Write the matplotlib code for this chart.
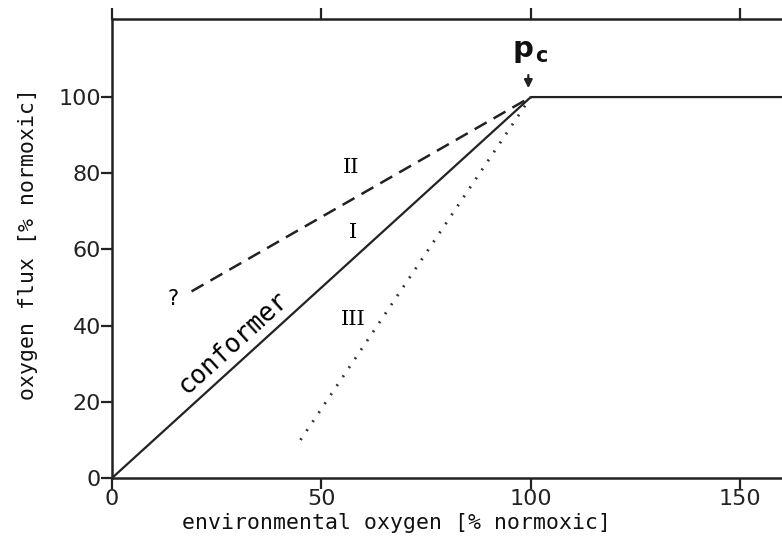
import numpy as np
import matplotlib.pyplot as plt

# line data (environmental O2 vs O2 flux, % normoxic)
conf_x = [0, 100, 160]
conf_y = [0, 100, 100]
ii_x = [19, 100]
ii_y = [49, 100]
iii_x = [45, 100]
iii_y = [10, 100]

xticks = [0, 50, 100, 150]
yticks = [0, 20, 40, 60, 80, 100]

fig = plt.figure(figsize=(7.82, 5.42), dpi=100)
ax = fig.add_axes([0.1432, 0.118, 0.857, 0.847])

ax.plot(conf_x, conf_y, color='#222222', lw=1.6, solid_capstyle='butt')
ax.plot(ii_x, ii_y, color='#222222', lw=1.8, ls=(0, (5.5, 3.2)))
ax.plot(iii_x, iii_y, color='#333333', lw=2.0, ls=(0, (0.7, 3.2)))

ax.set_xlim(0, 160)
ax.set_ylim(0, 120.5)
ax.set_xticks(xticks)
ax.set_yticks(yticks)

for s in ['left', 'bottom', 'top']:
    ax.spines[s].set_linewidth(1.8)
    ax.spines[s].set_color('#222222')
ax.spines['right'].set_visible(False)

ax.tick_params(axis='both', direction='out', length=8, width=1.6,
               labelsize=16, colors='#222222', pad=0)
ax.tick_params(top=True, labeltop=False)

mono = 'DejaVu Sans Mono'
ax.set_xlabel('environmental oxygen [% normoxic]', family=mono,
              fontsize=15.5, color='#111111', va='center')
ax.xaxis.set_label_coords(0.425, -0.097)
ax.set_ylabel('oxygen flux [% normoxic]', family=mono,
              fontsize=15.5, color='#111111', va='center')
ax.yaxis.set_label_coords(-0.125, 0.51)

serif = 'DejaVu Serif'
ax.text(57, 81.5, 'II', family=serif, fontsize=15, ha='center', va='center')
ax.text(57.5, 64.5, 'I', family=serif, fontsize=15, ha='center', va='center')
ax.text(57.5, 41.5, 'III', family=serif, fontsize=15, ha='center', va='center')
ax.text(14.5, 47, '?', family=mono, fontsize=15, ha='center', va='center')
ax.text(29.1, 35.6, 'conformer', family=mono, fontsize=18.5, ha='center',
        va='center', rotation=42.3, rotation_mode='anchor')

ax.text(98.2, 110.6, 'p', fontsize=21, fontweight='bold', ha='center',
        va='baseline', color='#111111')
ax.text(102.6, 109.2, 'c', fontsize=15, fontweight='bold', ha='center',
        va='baseline', color='#111111')
ax.annotate('', xy=(99.4, 101.6), xytext=(99.4, 106.5),
            arrowprops=dict(arrowstyle='-|>', lw=1.6, color='#222222',
                            mutation_scale=12))

fig.savefig('out.png', dpi=100)
